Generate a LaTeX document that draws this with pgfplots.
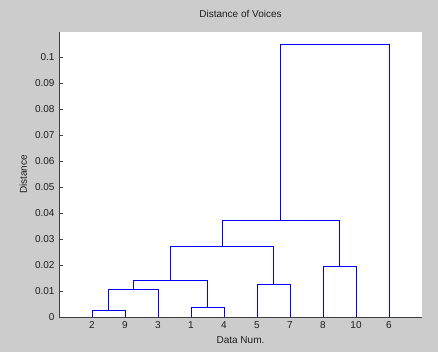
\documentclass[border=0pt]{standalone}
\usepackage{pgfplots}
\pgfplotsset{compat=1.18}
\usepackage{fontspec}
\setmainfont{Liberation Sans}
\definecolor{bggray}{RGB}{204,204,204}
\definecolor{linkblue}{RGB}{0,0,255}
\definecolor{txt}{RGB}{30,30,30}
\begin{document}
\begin{tikzpicture}[x=1pt,y=1pt]
\fill[bggray] (-59,-35) rectangle (379,317);
\begin{axis}[
  at={(0,0)}, anchor=south west,
  scale only axis,
  width=363pt, height=285pt,
  xmin=0, xmax=11, ymin=0, ymax=0.1096,
  axis background/.style={fill=white},
  axis x line*=bottom, axis y line*=left,
  axis line style={draw=black!75, line width=0.6pt},
  xtick={1,...,10},
  xticklabels={2,9,3,1,4,5,7,8,10,6},
  ytick={0,0.01,...,0.1},
  yticklabels={0,0.01,0.02,0.03,0.04,0.05,0.06,0.07,0.08,0.09,0.1},
  tick align=inside, tickwidth=4pt,
  ytick style={draw=black!75, line width=0.5pt},
  xtick style={draw=none},
  ticklabel style={font=\fontsize{10}{12}\selectfont, text=txt},
  /pgf/number format/assume math mode=true,
  xticklabel style={yshift=-1pt},
  yticklabel style={xshift=-1pt},
  title={Distance of Voices},
  title style={font=\fontsize{10}{12}\selectfont, text=txt, at={(0.5,1)}, anchor=base, yshift=8pt},
  xlabel={Data Num.},
  ylabel={Distance},
  xlabel style={font=\fontsize{10}{12}\selectfont, text=txt, at={(0.5,0)}, anchor=base, yshift=-27pt},
  ylabel style={font=\fontsize{10}{12}\selectfont, text=txt, at={(0,0.5)}, anchor=base, yshift=32pt},
  clip=false,
  unbounded coords=jump,
]
\addplot[color=linkblue, draw=linkblue, solid, line width=0.6pt, mark=none] coordinates {
  (1,0) (1,0.0026) (2,0.0026) (2,0)
  (nan,nan)
  (1.5,0.0026) (1.5,0.0107) (3,0.0107) (3,0)
  (nan,nan)
  (4,0) (4,0.0037) (5,0.0037) (5,0)
  (nan,nan)
  (2.25,0.0107) (2.25,0.0142) (4.5,0.0142) (4.5,0.0037)
  (nan,nan)
  (6,0) (6,0.0126) (7,0.0126) (7,0)
  (nan,nan)
  (3.375,0.0142) (3.375,0.0270) (6.5,0.0270) (6.5,0.0126)
  (nan,nan)
  (8,0) (8,0.0194) (9,0.0194) (9,0)
  (nan,nan)
  (4.9375,0.0270) (4.9375,0.0373) (8.5,0.0373) (8.5,0.0194)
  (nan,nan)
  (6.71875,0.0373) (6.71875,0.1047) (10,0.1047) (10,0)
};
\end{axis}
\end{tikzpicture}
\end{document}
